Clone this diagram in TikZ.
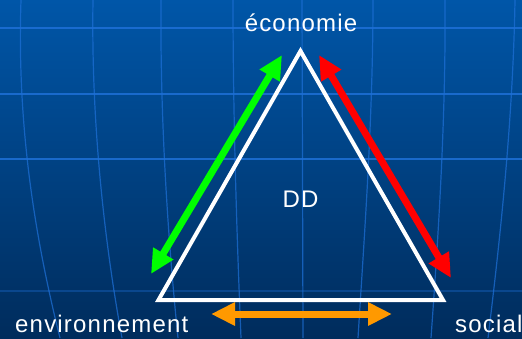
\documentclass[tikz,border=0pt]{standalone}
\usepackage{fontspec}
\usetikzlibrary{arrows.meta}
\newfontfamily\labfont{Liberation Sans}[LetterSpace=5]
\definecolor{bgtop}{RGB}{0,86,168}
\definecolor{bgbot}{RGB}{0,44,92}
\definecolor{gridc}{RGB}{30,112,215}
\definecolor{greenA}{RGB}{0,255,0}
\definecolor{redA}{RGB}{255,0,0}
\definecolor{orangeA}{RGB}{255,153,0}
\tikzset{
  gridline/.style={draw=gridc, line width=1.6pt, opacity=0.85},
  meridian/.style={draw=gridc, line width=1.2pt, opacity=0.72},
  faintline/.style={draw=gridc, line width=1.1pt, opacity=0.35},
  linkarrow/.style={line width=7pt, {Triangle[length=24pt,width=22pt]}-{Triangle[length=24pt,width=22pt]}},
  label/.style={text=white, inner sep=0pt, font=\labfont\fontsize{24}{28}\selectfont},
  tri/.style={draw=white, line width=4pt, line join=miter}
}
\begin{document}
\begin{tikzpicture}[x=1pt,y=-1pt]
\useasboundingbox (0,0) rectangle (522,338);
\shade[top color=bgtop, bottom color=bgbot] (0,0) rectangle (522,338);
% globe grid
\draw[gridline] (0,28) -- (522,28);
\draw[gridline] (0,94) -- (522,94);
\draw[gridline] (0,159) -- (522,159);
\draw[faintline] (0,291) -- (522,291);
\draw[meridian] (21,0) .. controls (17,120) and (33,230) .. (60,338);
\draw[meridian] (93,0) .. controls (91,120) and (104,240) .. (122,338);
\draw[meridian] (161,0) .. controls (160,120) and (168,240) .. (178,338);
\draw[meridian] (233,0) .. controls (233,120) and (237,240) .. (241,338);
\draw[meridian] (302,0) -- (303,338);
\draw[meridian] (373,0) .. controls (373,120) and (364,240) .. (358,338);
\draw[meridian] (445,0) .. controls (446,120) and (438,240) .. (431,338);
\draw[meridian] (515,0) .. controls (513,120) and (500,240) .. (488,338);
% triangle
\coordinate (E) at (300.5,51);
\coordinate (V) at (158.5,300);
\coordinate (S) at (443,300);
\draw[tri] (E) -- (V) -- (S) -- cycle;
% arrows
\coordinate (g1) at (151,274);
\coordinate (g2) at (282,55);
\coordinate (r1) at (319,55);
\coordinate (r2) at (451,278);
\coordinate (o1) at (211,314);
\coordinate (o2) at (392,314);
\draw[linkarrow, draw=greenA, fill=greenA] (g1) -- (g2);
\draw[linkarrow, draw=redA, fill=redA] (r1) -- (r2);
\draw[linkarrow, draw=orangeA, fill=orangeA] (o1) -- (o2);
% labels
\node[label, anchor=base] (eco) at (301,31.7) {économie};
\node[label, anchor=base] (dd) at (300.5,207.7) {DD};
\node[label, anchor=base west] (env) at (15,332) {environnement};
\node[label, anchor=base west] (soc) at (455,332) {social};
\end{tikzpicture}
\end{document}
